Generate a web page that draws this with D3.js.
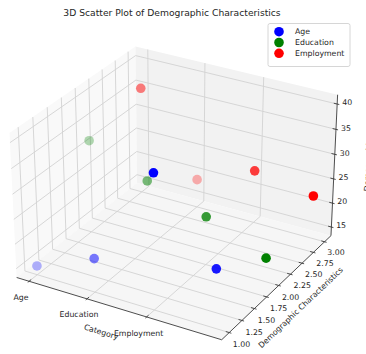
<!DOCTYPE html>
<html>
<head>
<meta charset="utf-8">
<script src="https://cdn.jsdelivr.net/npm/d3@7"></script>
<style>
  html, body { margin: 0; padding: 0; background: #ffffff; }
  svg { display: block; font-family: "DejaVu Sans", sans-serif; }
</style>
</head>
<body>
<svg id="chart" width="366" height="354"></svg>
<script>
// ---- data ----
const categories = ["Age", "Education", "Employment"];
const categoryTicks = [0, 1, 2];
const positions = [0, 1, 2, 3];
const ageValues = [15, 20, 40, 25];
const educationValues = [32, 27, 23, 18];
const employmentValues = [35, 19, 24, 22];
const seriesNames = ["Age", "Education", "Employment"];
const seriesLevels = [1, 2, 3];
const seriesColors = ["blue", "green", "red"];
const yTicks = [1.0, 1.25, 1.5, 1.75, 2.0, 2.25, 2.5, 2.75, 3.0];
const zTicks = [15, 20, 25, 30, 35, 40];

const seriesValues = [ageValues, educationValues, employmentValues];

// ---- 3D camera (elev 30, azim -60, perspective) ----
const norm41 = Math.sqrt(41);
const A = [4, 4, 3].map(v => v * 1.8294640721620434 / norm41);
const DIST = 10;
const elev = 30 * Math.PI / 180, azim = -60 * Math.PI / 180;
const w = [Math.cos(elev) * Math.cos(azim), Math.cos(elev) * Math.sin(azim), Math.sin(elev)];
const cross = (a, b) => [a[1]*b[2]-a[2]*b[1], a[2]*b[0]-a[0]*b[2], a[0]*b[1]-a[1]*b[0]];
const dot = (a, b) => a[0]*b[0] + a[1]*b[1] + a[2]*b[2];
let u = cross([0, 0, 1], w);
const un = Math.hypot(...u); u = u.map(c => c / un);
const v = cross(w, u);

// padded limits: 5% margins, then pane padding of 1/48
function limits(ext) {
  const r = ext[1] - ext[0];
  const lo = ext[0] - 0.05 * r, hi = ext[1] + 0.05 * r;
  const p = (hi - lo) / 48;
  return [lo - p, hi + p];
}
const allZ = [].concat(...seriesValues);
const tX = d3.scaleLinear().domain(limits(d3.extent(positions))).range([0, 1]);
const tY = d3.scaleLinear().domain(limits(d3.extent(seriesLevels))).range([0, 1]);
const tZ = d3.scaleLinear().domain(limits(d3.extent(allZ))).range([0, 1]);

// projected coordinates -> pixels
const sx = d3.scaleLinear().domain([0, 0.1]).range([176.6, 176.6 + 205.6]);
const sy = d3.scaleLinear().domain([0, 0.1]).range([186.4, 186.4 - 192.1]);

function projT(t) {
  const q = [(t[0] - 0.5) * A[0], (t[1] - 0.5) * A[1], (t[2] - 0.5) * A[2]];
  const den = DIST - dot(w, q);
  return { x: sx(dot(u, q) / den), y: sy(dot(v, q) / den), depth: -1 / den };
}
const proj = (x, y, z) => projT([tX(x), tY(y), tZ(z)]);

const svg = d3.select("#chart");
const line = d3.line().x(d => d.x).y(d => d.y);

// ---- panes ----
const panes = [
  { pts: [[0,0,0],[0,1,0],[0,1,1],[0,0,1]], fill: "#f9f9f9" },
  { pts: [[0,1,0],[1,1,0],[1,1,1],[0,1,1]], fill: "#f2f2f2" },
  { pts: [[0,0,0],[1,0,0],[1,1,0],[0,1,0]], fill: "#f6f6f6" }
];
svg.append("g").selectAll("path").data(panes).join("path")
  .attr("d", d => line(d.pts.map(projT)) + "Z")
  .attr("fill", d => d.fill)
  .attr("stroke", "none");

// ---- grid lines ----
const grid = svg.append("g").attr("fill", "none").attr("stroke", "#d2d2d2").attr("stroke-width", 0.9);
categoryTicks.forEach(x => {
  const t = tX(x);
  grid.append("path").attr("d", line([[t,0,0],[t,1,0],[t,1,1]].map(projT)));
});
yTicks.forEach(y => {
  const t = tY(y);
  grid.append("path").attr("d", line([[1,t,0],[0,t,0],[0,t,1]].map(projT)));
});
zTicks.forEach(z => {
  const t = tZ(z);
  grid.append("path").attr("d", line([[0,0,t],[0,1,t],[1,1,t]].map(projT)));
});

// ---- axis lines ----
const axes = svg.append("g").attr("fill", "none").attr("stroke", "#3a3a3a").attr("stroke-width", 0.9);
axes.append("path").attr("d", line([[0,0,0],[1,0,0]].map(projT)));
axes.append("path").attr("d", line([[1,0,0],[1,1,0]].map(projT)));
axes.append("path").attr("d", line([[1,1,0],[1,1,1]].map(projT)));

// ticks
const tin = 0.016, tout = 0.01;
categoryTicks.forEach(x => {
  const t = tX(x);
  axes.append("path").attr("d", line([[t,tin,0],[t,-tout,0]].map(projT)));
});
yTicks.forEach(y => {
  const t = tY(y);
  axes.append("path").attr("d", line([[1-tin,t,0],[1+tout,t,0]].map(projT)));
});
zTicks.forEach(z => {
  const t = tZ(z);
  axes.append("path").attr("d", line([[1-tin,1,t],[1+tout,1,t]].map(projT)));
});

// ---- tick labels ----
const labels = svg.append("g").attr("fill", "#262626").attr("font-size", "7.8px")
  .attr("text-anchor", "middle").attr("dominant-baseline", "central");
const fx = 0.065, fy = 0.058, fz = 0.032;
categoryTicks.forEach((x, i) => {
  const p = projT([tX(x), -fx, -fx]);
  labels.append("text").attr("x", p.x).attr("y", p.y).text(categories[i]);
});
yTicks.forEach(y => {
  const p = projT([1 + fy, tY(y), -fy]);
  labels.append("text").attr("x", p.x).attr("y", p.y).text(d3.format(".2f")(y));
});
zTicks.forEach(z => {
  const p = projT([1 + fz, 1 + fz, tZ(z)]);
  labels.append("text").attr("x", p.x).attr("y", p.y).text(z);
});

// ---- axis titles ----
function axisTitle(a, b, dx, dy, text) {
  const p0 = projT(a), p1 = projT(b);
  let ang = Math.atan2(p1.y - p0.y, p1.x - p0.x) * 180 / Math.PI;
  if (ang > 90) ang -= 180;
  if (ang < -90) ang += 180;
  const cx = (p0.x + p1.x) / 2 + dx, cy = (p0.y + p1.y) / 2 + dy;
  labels.append("text")
    .attr("transform", `translate(${cx},${cy}) rotate(${ang})`)
    .text(text);
}
axisTitle([0,0,0], [1,0,0], -18, 23.5, "Category");
axisTitle([1,0,0], [1,1,0], 24.5, 20, "Demographic Characteristics");
axisTitle([1,1,0], [1,1,1], 34, 0, "Demographic");

// ---- scatter points with depth shading ----
const points = [];
seriesValues.forEach((vals, s) => {
  const pts = vals.map((z, i) => Object.assign(proj(positions[i], seriesLevels[s], z), { s }));
  const dExt = d3.extent(pts, d => d.depth);
  const shade = d3.scaleLinear().domain(dExt).range([0, 1]);
  pts.forEach(p => { p.alpha = 1 - 0.7 * shade(p.depth); points.push(p); });
});
points.sort((a, b) => b.depth - a.depth);
svg.append("g").selectAll("circle").data(points).join("circle")
  .attr("cx", d => d.x).attr("cy", d => d.y).attr("r", 4.8)
  .attr("fill", d => seriesColors[d.s])
  .attr("fill-opacity", d => d.alpha);

// ---- legend ----
const legend = svg.append("g");
legend.append("rect").attr("x", 268).attr("y", 23.5).attr("width", 82).attr("height", 43)
  .attr("rx", 2).attr("fill", "#ffffff").attr("fill-opacity", 0.8)
  .attr("stroke", "#cccccc").attr("stroke-width", 0.8);
seriesNames.forEach((name, i) => {
  const y = 31.7 + i * 10.8;
  legend.append("circle").attr("cx", 279).attr("cy", y).attr("r", 4.8).attr("fill", seriesColors[i]);
  legend.append("text").attr("x", 295).attr("y", y).attr("font-size", "7.8px")
    .attr("fill", "#262626").attr("dominant-baseline", "central").text(name);
});

// ---- title ----
svg.append("text").attr("x", 172).attr("y", 12.5)
  .attr("text-anchor", "middle").attr("dominant-baseline", "central")
  .attr("font-size", "9.2px").attr("fill", "#262626")
  .text("3D Scatter Plot of Demographic Characteristics");
</script>
</body>
</html>
